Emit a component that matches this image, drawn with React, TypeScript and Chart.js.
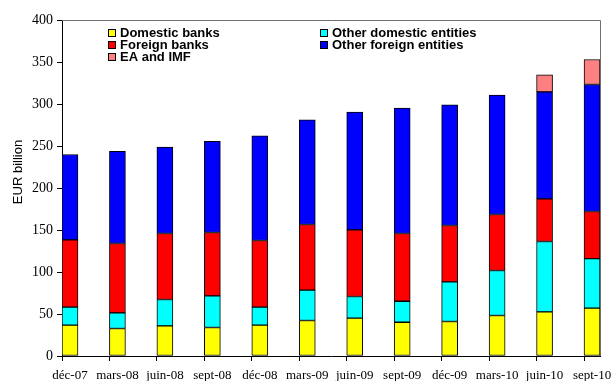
import React, { useEffect, useRef } from "react";
import { Chart, registerables } from "chart.js";

Chart.register(...registerables);

const categories = [
  "déc-07", "mars-08", "juin-08", "sept-08", "déc-08", "mars-09",
  "juin-09", "sept-09", "déc-09", "mars-10", "juin-10", "sept-10",
];

const domesticBanks = [36.7, 32.7, 35.9, 33.9, 36.7, 42.3, 45.0, 40.2, 41.1, 48.2, 52.6, 56.9];
const otherDomestic = [21.4, 18.7, 31.4, 37.7, 21.4, 36.1, 25.8, 25.0, 47.2, 53.6, 83.7, 59.1];
const foreignBanks = [80.2, 82.5, 78.5, 75.4, 79.4, 78.1, 79.4, 80.6, 67.1, 66.7, 50.8, 56.0];
const otherForeign = [101.6, 109.9, 102.8, 108.7, 124.6, 124.7, 140.1, 149.2, 143.6, 142.0, 127.4, 151.2];
const eaImf = [0, 0, 0, 0, 0, 0, 0, 0, 0, 0, 20.3, 29.8];

const seriesNames = [
  "Domestic banks",
  "Other domestic entities",
  "Foreign banks",
  "Other foreign entities",
  "EA and IMF",
];
const seriesValues = [domesticBanks, otherDomestic, foreignBanks, otherForeign, eaImf];
const seriesColors = ["#FFFF00", "#00FFFF", "#FF0000", "#0000FF", "#FF8080"];

const yMin = 0;
const yMax = 400;
const yStep = 50;
const yTitle = "EUR billion";

export default function App() {
  const ref = useRef<HTMLCanvasElement>(null);

  useEffect(() => {
    document.body.style.margin = "0";
    const half = 0.168;

    const custom = {
      id: "custom",
      afterDraw(chart: any) {
        const { ctx, chartArea } = chart;
        const { left, right, top, bottom } = chartArea;
        ctx.save();
        // frame top & right
        ctx.strokeStyle = "#707070";
        ctx.lineWidth = 1;
        ctx.beginPath();
        ctx.moveTo(left, Math.round(top) + 0.5);
        ctx.lineTo(Math.round(right) + 0.5, Math.round(top) + 0.5);
        ctx.lineTo(Math.round(right) + 0.5, bottom);
        ctx.stroke();

        // y title
        ctx.fillStyle = "#000";
        ctx.font = '13px "Liberation Sans", Arial, sans-serif';
        ctx.textAlign = "center";
        ctx.textBaseline = "middle";
        ctx.translate(18, 172);
        ctx.rotate(-Math.PI / 2);
        ctx.fillText(yTitle, 0, 0);
        ctx.setTransform(1, 0, 0, 1, 0, 0);

        // legend
        const colX = [108, 320];
        const rowY = [33, 45, 57];
        ctx.font = 'bold 13px "Liberation Sans", Arial, sans-serif';
        ctx.textAlign = "left";
        ctx.textBaseline = "middle";
        chart.data.datasets.forEach((ds: any, i: number) => {
          const x = colX[i % 2];
          const y = rowY[Math.floor(i / 2)];
          ctx.fillStyle = ds.backgroundColor;
          ctx.fillRect(x, y - 4, 8, 8);
          ctx.strokeStyle = "#000";
          ctx.strokeRect(x + 0.5, y - 3.5, 7, 7);
          ctx.fillStyle = "#000";
          ctx.fillText(ds.label, x + 12, y + 0.5);
        });
        ctx.restore();
      },
    };

    const chart = new Chart(ref.current as HTMLCanvasElement, {
      type: "bar",
      data: {
        datasets: seriesNames.map((name, si) => ({
          label: name,
          data: seriesValues[si]
            .map((v, i) => ({ x: i, y: v }))
            .filter((p) => p.y !== 0),
          backgroundColor: seriesColors[si],
          borderColor: "#000",
          borderWidth: 1,
          borderSkipped: false,
          barThickness: 16,
        })),
      },
      options: {
        animation: false,
        responsive: false,
        devicePixelRatio: 1,
        layout: { padding: { top: 20, right: 12, left: 0, bottom: 0 } },
        plugins: {
          legend: { display: false },
          tooltip: { enabled: false },
        },
        scales: {
          x: {
            type: "linear",
            offset: false,
            min: -half,
            max: categories.length - 1 + half,
            stacked: true,
            afterBuildTicks: (s: any) => {
              s.ticks = categories.map((_, i) => ({ value: i - half }));
            },
            afterFit: (s: any) => {
              s.height = 25;
            },
            grid: { offset: false, drawOnChartArea: false, drawTicks: true, tickLength: 5, color: "#000" },
            border: { color: "#000", width: 1 },
            ticks: {
              callback: (_v: any, i: number) => categories[i],
              labelOffset: 8,
              padding: 7,
              autoSkip: false,
              maxRotation: 0,
              font: { family: '"Liberation Serif", "Times New Roman", serif', size: 13 },
              color: "#000",
            },
          },
          y: {
            min: yMin,
            max: yMax,
            stacked: true,
            afterFit: (s: any) => {
              s.width = 62;
            },
            grid: { drawOnChartArea: false, drawTicks: true, tickLength: 5, color: "#000" },
            border: { color: "#000", width: 1 },
            ticks: {
              stepSize: yStep,
              padding: 4,
              font: { family: '"Liberation Serif", "Times New Roman", serif', size: 14 },
              color: "#000",
            },
          },
        },
      },
      plugins: [custom],
    } as any);

    return () => chart.destroy();
  }, []);

  return (
    <div style={{ position: "absolute", left: 0, top: 0, width: 612, height: 381 }}>
      <canvas ref={ref} width={612} height={381} />
    </div>
  );
}
